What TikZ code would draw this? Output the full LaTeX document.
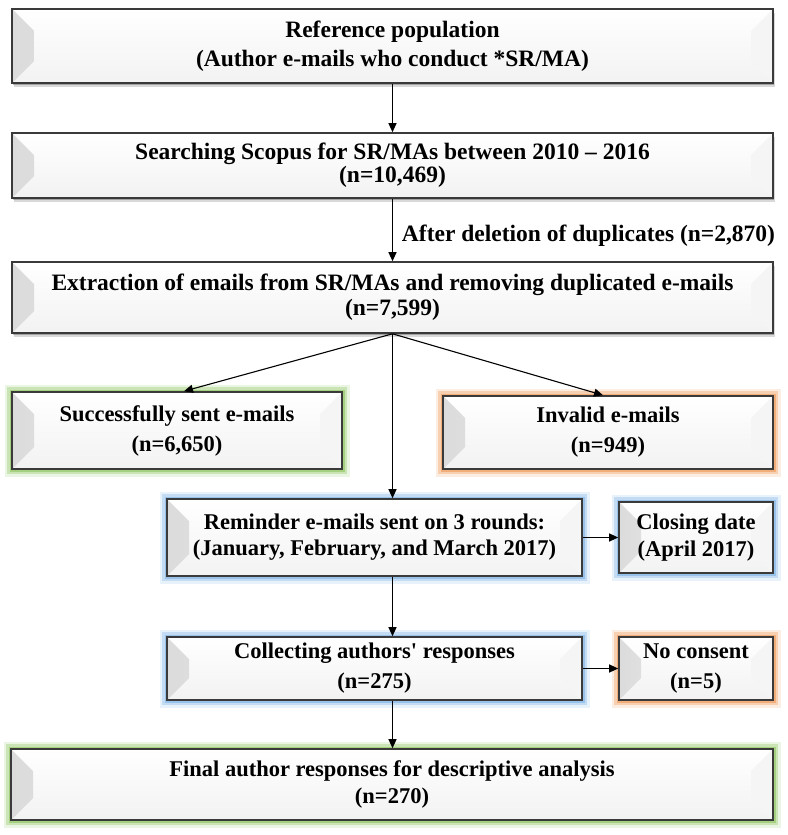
\documentclass[tikz,border=0pt]{standalone}
\usepackage{fontspec}
\setmainfont{Liberation Serif}[Ligatures=TeXOff]
\usetikzlibrary{arrows.meta,shadows,calc}
\definecolor{edgec}{HTML}{3A3A3A}
\definecolor{glowgreen}{HTML}{9CCB72}
\definecolor{gloworange}{HTML}{F0A46C}
\definecolor{glowblue}{HTML}{8DBCE8}
\begin{document}
\begin{tikzpicture}[x=1pt,y=-1pt,
  bev/.style n args={4}{draw=edgec, line width=1.6pt, top color=white, bottom color=black!5,
    minimum width=#1pt, minimum height=#2pt, inner sep=0pt, align=center,
    font=\bfseries\fontsize{#4}{#3}\selectfont,
    path picture={
      \shade[left color=black!14, right color=black!2]
        (path picture bounding box.north west)
        -- ([shift={(22pt,-22pt)}]path picture bounding box.north west)
        -- ([shift={(22pt,22pt)}]path picture bounding box.south west)
        -- (path picture bounding box.south west) -- cycle;
      \fill[black!4]
        (path picture bounding box.north east)
        -- ([shift={(-22pt,-22pt)}]path picture bounding box.north east)
        -- ([shift={(-22pt,22pt)}]path picture bounding box.south east)
        -- (path picture bounding box.south east) -- cycle;
    }},
  shad/.style={drop shadow={shadow xshift=2pt, shadow yshift=-4pt, opacity=0.15, fill=black},
    drop shadow={shadow xshift=1pt, shadow yshift=-2pt, opacity=0.25, fill=black}},
  glow/.style={preaction={draw=#1, line width=15pt, opacity=0.2},
    preaction={draw=#1, line width=10pt, opacity=0.4},
    preaction={draw=#1, line width=5pt, opacity=0.8}},
  arr/.style={draw=black, line width=1.1pt, -{Triangle[length=9pt,width=8pt]}},
  lbl/.style={font=\bfseries\fontsize{23.5}{26}\selectfont, inner sep=0pt}
]
\useasboundingbox (0,0) rectangle (787,835);

\node[bev={761}{74}{29}{23.5}, shad] (n1) at (392.5,46) {Reference population\\(Author e-mails who conduct *SR/MA)};
\node[bev={761}{65}{23}{23.5}, shad] (n2) at (392.5,165.5) {Searching Scopus for SR/MAs between 2010 – 2016\\(n=10,469)};
\node[bev={761}{71}{25}{23.5}, shad] (n3) at (392.5,297.5) {Extraction of emails from SR/MAs and removing duplicated e-mails\\(n=7,599)};
\node[bev={330}{77}{30}{22.5}, glow=glowgreen] (n4) at (177,430.5) {Successfully sent e-mails\\(n=6,650)};
\node[bev={330}{73}{30}{22.5}, glow=gloworange] (n5) at (608,432.5) {Invalid e-mails\\(n=949)};
\node[bev={415}{77}{26}{22.5}, glow=glowblue] (n6) at (374.5,537.5) {Reminder e-mails sent on 3 rounds:\\(January, February, and March 2017)};
\node[bev={154}{71}{27}{22.5}, glow=glowblue] (n7) at (696,537.5) {Closing date\\(April 2017)};
\node[bev={415}{63}{30}{22.5}, glow=glowblue] (n8) at (374.5,668.5) {Collecting authors' responses\\(n=275)};
\node[bev={154}{63}{30}{22.5}, glow=gloworange] (n9) at (696,668.5) {No consent\\(n=5)};
\node[bev={762}{71}{27}{22.5}, glow=glowgreen] (n10) at (392,784.5) {Final author responses for descriptive analysis\\(n=270)};

\node[lbl] (lab) at (588.5,236) {After deletion of duplicates (n=2,870)};

\draw[arr] (n1.south) -- (n2.north);
\draw[arr] (n2.south) -- (n3.north);
\draw[arr] (n3.south) -- ([xshift=7pt]n4.north);
\draw[arr] (n3.south) -- ([xshift=-5pt]n5.north);
\draw[arr] (n3.south) -- (n3.south |- n6.north);
\draw[arr] (n6.east) -- (n7.west);
\draw[arr] (n6.south -| n3.south) -- (n8.north -| n3.south);
\draw[arr] (n8.east) -- (n9.west);
\draw[arr] (n8.south -| n3.south) -- (n10.north -| n3.south);
\end{tikzpicture}
\end{document}
